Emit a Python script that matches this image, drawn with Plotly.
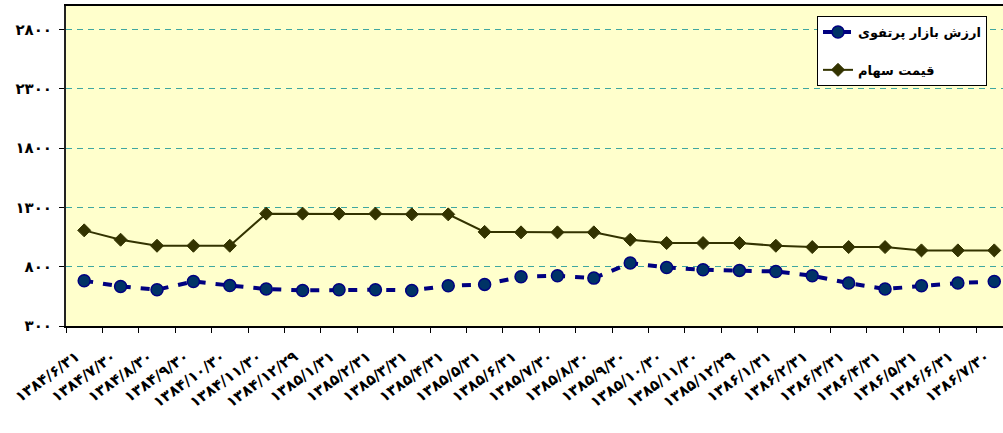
import plotly.graph_objects as go

dates = ["۱۳۸۴/۶/۳۱", "۱۳۸۴/۷/۳۰", "۱۳۸۴/۸/۳۰", "۱۳۸۴/۹/۳۰", "۱۳۸۴/۱۰/۳۰", "۱۳۸۴/۱۱/۳۰",
         "۱۳۸۴/۱۲/۲۹", "۱۳۸۵/۱/۳۱", "۱۳۸۵/۲/۳۱", "۱۳۸۵/۳/۳۱", "۱۳۸۵/۴/۳۱", "۱۳۸۵/۵/۳۱",
         "۱۳۸۵/۶/۳۱", "۱۳۸۵/۷/۳۰", "۱۳۸۵/۸/۳۰", "۱۳۸۵/۹/۳۰", "۱۳۸۵/۱۰/۳۰", "۱۳۸۵/۱۱/۳۰",
         "۱۳۸۵/۱۲/۲۹", "۱۳۸۶/۱/۳۱", "۱۳۸۶/۲/۳۱", "۱۳۸۶/۳/۳۱", "۱۳۸۶/۴/۳۱", "۱۳۸۶/۵/۳۱",
         "۱۳۸۶/۶/۳۱", "۱۳۸۶/۷/۳۰"]

portfolio_value = [682, 634, 606, 676, 642, 612, 600, 606, 606, 600, 640, 651, 715,
                   724, 704, 831, 794, 775, 769, 760, 724, 662, 612, 640, 662, 676]

share_price = [1107, 1028, 977, 977, 977, 1248, 1248, 1248, 1248, 1242, 1242, 1094, 1090,
               1090, 1090, 1028, 1000, 1000, 1000, 977, 966, 966, 966, 938, 938, 938]

y_tick_vals = [300, 800, 1300, 1800, 2300, 2800]
y_tick_text = ["۳۰۰", "۸۰۰", "۱۳۰۰", "۱۸۰۰", "۲۳۰۰", "۲۸۰۰"]

name_portfolio = "ارزش بازار پرتفوی"
name_price = "قیمت سهام"

FONT = "DejaVu Sans"

fig = go.Figure()
fig.add_trace(go.Scatter(
    x=dates, y=portfolio_value, name=name_portfolio, mode="lines+markers",
    legendgroup="a",
    line=dict(color="#000080", width=4, dash="9px,10px"),
    marker=dict(symbol="circle", size=12, color="#003366",
                line=dict(color="#000080", width=1.5)),
))
fig.add_trace(go.Scatter(
    x=dates, y=share_price, name=name_price, mode="lines+markers",
    legendgroup="b",
    line=dict(color="#333300", width=2),
    marker=dict(symbol="diamond", size=10, color="#333300",
                line=dict(color="#333300", width=1)),
))

fig.update_layout(
    width=1003, height=433,
    margin=dict(l=66, r=0, t=6, b=107, autoexpand=False),
    paper_bgcolor="white",
    plot_bgcolor="#FFFFCC",
    font=dict(family=FONT, size=13, color="black"),
    showlegend=True,
    legend=dict(
        x=(817 - 66) / 937, y=(326 - 16) / 320, xanchor="left", yanchor="top",
        bgcolor="white", bordercolor="black", borderwidth=1,
        font=dict(family=FONT, size=13, color="black", weight="bold"),
        traceorder="grouped", tracegroupgap=18,
        entrywidth=147, entrywidthmode="pixels",
    ),
    xaxis=dict(
        type="category",
        range=[-0.5, 25.24],
        automargin=False,
        showgrid=False,
        showline=True, linecolor="black", linewidth=2, mirror=True,
        ticks="outside", ticklen=5, tickcolor="black", tickwidth=1,
        tickson="boundaries",
        tickangle=-36,
        ticklabelshift=-8, ticklabelstandoff=14,
        tickfont=dict(family=FONT, size=15, color="black", weight="bold"),
        zeroline=False,
    ),
    yaxis=dict(
        range=[300, 3000],
        automargin=False,
        tickvals=y_tick_vals, ticktext=y_tick_text,
        showgrid=True, gridcolor="#3FA7A0", gridwidth=1, griddash="6px,5px",
        showline=True, linecolor="#222222", linewidth=2, mirror=False,
        ticks="outside", ticklen=5, tickcolor="black", tickwidth=1,
        ticklabelstandoff=4,
        tickfont=dict(family=FONT, size=15, color="black", weight="bold"),
        zeroline=False,
    ),
)

fig.write_html("out.html", config={"displayModeBar": False},
               post_script="document.body.style.margin='0px';")
